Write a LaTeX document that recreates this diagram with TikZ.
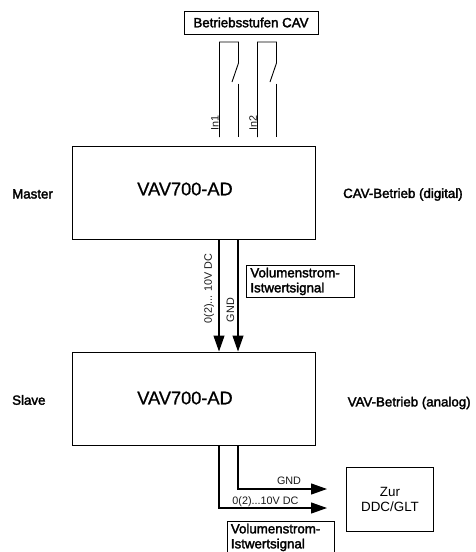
\documentclass[tikz,border=0pt]{standalone}
\usepackage{fontspec}
\setmainfont{Liberation Sans}
\newfontfamily\fatfont[FakeBold=2.2]{Liberation Sans}
\newfontfamily\midfont[FakeBold=0.8]{Liberation Sans}
\usetikzlibrary{arrows.meta}
\tikzset{
  x=1pt,y=-1pt,
  unit/.style={draw,line width=1.2pt,minimum width=243pt,minimum height=93pt,inner sep=0pt,anchor=north west},
  unittext/.style={inner sep=0pt,font=\fontsize{18.2}{20}\midfont},
  side/.style={inner sep=0pt,anchor=west,font=\fontsize{13.3}{15}\fatfont},
  tag/.style={draw,line width=.8pt,inner xsep=4pt,inner ysep=0pt,anchor=north west,align=left,minimum width=107.5pt,minimum height=32pt,text width=99.5pt,font=\fontsize{13.3}{15}\fatfont},
  wire/.style={line width=1.2pt},
  sig/.style={wire,-{Triangle[length=16pt,width=11pt]}},
  small/.style={inner sep=0pt,font=\fontsize{10.8}{12}\selectfont,text=black!90},
  vert/.style={small,rotate=90}
}
\begin{document}
\begin{tikzpicture}
\clip (0,0) rectangle (475,552);
\fill[white] (0,0) rectangle (475,552);
% units
\node[unit] (master) at (72,146) {};
\node[unit] (slave) at (72,351.5) {};
\node[unittext] (mastername) at (185,189) {VAV700-AD};
\node[unittext] (slavename) at (185,398) {VAV700-AD};
\node[side] (masterrole) at (12,194) {Master};
\node[side] (slaverole) at (12,400) {Slave};
\node[side] (cavmode) at (343,194.5) {CAV-Betrieb (digital)};
\node[side] (vavmode) at (347.5,403) {VAV-Betrieb (analog)};
% header tag
\node[draw,line width=.8pt,inner sep=0pt,minimum width=134pt,minimum height=23pt,font=\fontsize{13.3}{15}\fatfont] (cav) at (251,22.5) {Betriebsstufen CAV};
% switches
\foreach \n/\l/\r in {a/219.5/238.5,b/257.5/276.5}{
  \coordinate (\n top) at (\l,42);
  \coordinate (\n hinge) at (\r,63);
  \coordinate (\n blade) at (\r-6.5,82);
  \coordinate (\n fix) at (\r,83.5);
  \coordinate (\n l) at (\l,137);
  \coordinate (\n r) at (\r,137);
  \draw[line width=.9pt] (\n l) -- (\n top) -- (\n top -| \n hinge) -- (\n hinge) -- (\n blade);
  \draw[line width=.9pt] (\n fix) -- (\n r);
}
\node[vert] (in1) at (215,122.5) {In1};
\node[vert] (in2) at (253,122.5) {In2};
% master to slave
\coordinate (cA) at (219,300);
\coordinate (cB) at (238,300);
\draw[sig] (cA |- master.south) -- (cA |- slave.north);
\draw[sig] (cB |- master.south) -- (cB |- slave.north);
\node[vert] (sigA) at (209,288.5) {0(2)... 10V DC};
\node[vert] (gndA) at (230.5,310) {GND};
\node[tag] (tagA) at (246,265) {Volumenstrom-\\Istwertsignal};
% slave to DDC
\node[draw,line width=.9pt,inner sep=0pt,minimum width=86.5pt,minimum height=64pt,align=center,font=\fontsize{13.4}{15}\selectfont] (ddc) at (390,499) {Zur\\DDC/GLT};
\coordinate (endB) at (327,489);
\coordinate (endA) at (327,508);
\draw[sig] (cB |- slave.south) -- (cB |- endB) -- (endB);
\draw[sig] (cA |- slave.south) -- (cA |- endA) -- (endA);
\node[small] (gndB) at (289,481) {GND};
\node[small] (sigB) at (265.5,502) {0(2)...10V DC};
\node[tag] (tagB) at (226.5,521) {Volumenstrom-\\Istwertsignal};
\end{tikzpicture}
\end{document}
